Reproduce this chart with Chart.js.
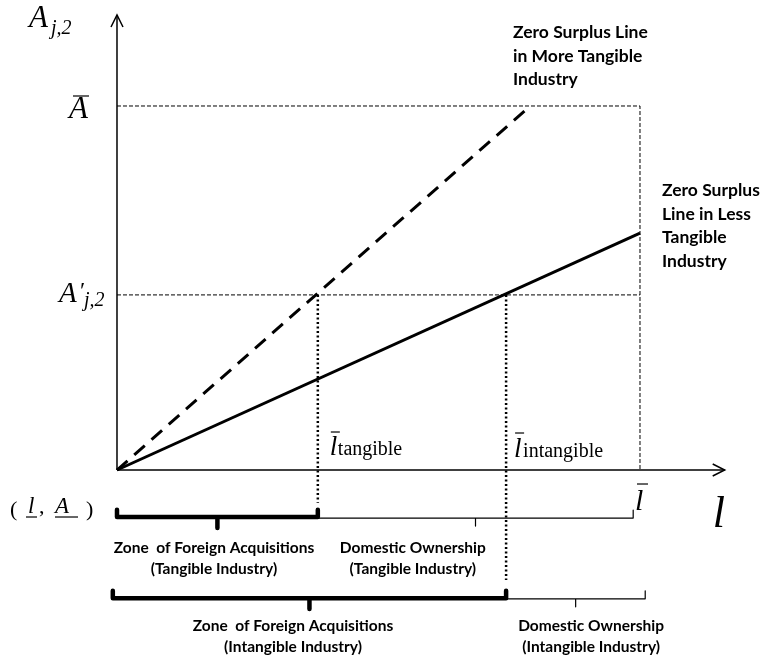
<!DOCTYPE html>
<html>
<head>
<meta charset="utf-8">
<script src="https://cdn.jsdelivr.net/npm/chart.js@4.4.0/dist/chart.umd.min.js"></script>
<style>
  html, body { margin: 0; padding: 0; background: #fff; }
  #wrap { width: 762px; height: 661px; }
</style>
</head>
<body>
<div id="wrap"><canvas id="chart"></canvas></div>
<script>
// thresholds (scaled so that l-bar = 10 and A-bar = 10)
const lBar = 10;
const ABar = 10;
const APrime = 4.81;
const lTangible = 3.84;
const lIntangible = 7.44;

// zero surplus lines, both start at the origin (l, A)
const moreTangibleX = [0, 7.9];
const moreTangibleY = [0, ABar];
const lessTangibleX = [0, lBar];
const lessTangibleY = [0, 6.51];

// axis extent (arrow tips)
const xAxisEnd = 11.62;
const yAxisEnd = 12.5;

// zones under the l axis: [from, to, level, heavy]
const zoneSpans = [
    [0, lTangible, -1.29, true],
    [lTangible, 9.87, -1.32, false],
    [-0.08, lIntangible, -3.52, true],
    [lIntangible, 10.1, -3.54, false],
];
// how far the dotted threshold lines reach below the axis
const tangibleDrop = -0.9;
const intangibleDrop = -3.02;

// zone captions (two lines each)
const zoneCaptions = [
    ["Zone  of Foreign Acquisitions", "(Tangible Industry)"],
    ["Domestic Ownership", "(Tangible Industry)"],
    ["Zone  of Foreign Acquisitions", "(Intangible Industry)"],
    ["Domestic Ownership", "(Intangible Industry)"],
];
const moreTangibleNote = ["Zero Surplus Line", "in More Tangible", "Industry"];
const lessTangibleNote = ["Zero Surplus", "Line in Less", "Tangible", "Industry"];

const pts = (xs, ys) => xs.map((x, i) => ({ x: x, y: ys[i] }));

function bracket(span) {
    const [from, to, level, heavy] = span;
    const mid = (from + to) / 2;
    const up = heavy ? 0.2 : 0.22;
    const down = heavy ? 0.3 : 0.22;
    return [
        { x: from, y: level + (heavy ? up : 0) },
        { x: from, y: level },
        { x: mid, y: level },
        { x: mid, y: level - down },
        { x: mid, y: level },
        { x: to, y: level },
        { x: to, y: level + up },
    ];
}

function lineSet(data, width, dash) {
    return {
        data: data,
        showLine: true,
        borderColor: "#000",
        borderWidth: width,
        borderDash: dash || [],
        pointRadius: 0,
        fill: false,
        tension: 0,
        clip: false,
    };
}

const datasets = [
    // axes
    lineSet([{ x: 0, y: 0 }, { x: xAxisEnd, y: 0 }], 1.5),
    lineSet([{ x: 0, y: 0 }, { x: 0, y: yAxisEnd }], 1.5),
    // guide lines
    lineSet([{ x: 0, y: ABar }, { x: lBar, y: ABar }, { x: lBar, y: 0 }], 1, [4, 2]),
    lineSet([{ x: 0, y: APrime }, { x: lBar, y: APrime }], 1, [4, 2]),
    lineSet([{ x: lTangible, y: APrime }, { x: lTangible, y: tangibleDrop }], 2.5, [2, 2.5]),
    lineSet([{ x: lIntangible, y: APrime }, { x: lIntangible, y: intangibleDrop }], 2.5, [2, 2.5]),
    // zero surplus lines
    lineSet(pts(moreTangibleX, moreTangibleY), 3, [14, 9]),
    lineSet(pts(lessTangibleX, lessTangibleY), 3),
];
zoneSpans.forEach(function (s) {
    const ds = lineSet(bracket(s), s[3] ? 4.5 : 1.2);
    ds.borderJoinStyle = "round";
    ds.borderCapStyle = "round";
    datasets.push(ds);
});

const serif = "'Liberation Serif', 'DejaVu Serif', serif";
const sans = "Lato, 'Open Sans', sans-serif";

const labelPlugin = {
    id: "labels",
    afterDatasetsDraw: function (chart) {
        const ctx = chart.ctx;
        const sx = chart.scales.x, sy = chart.scales.y;
        const px = (v) => sx.getPixelForValue(v);
        const py = (v) => sy.getPixelForValue(v);
        const txt = (s, x, y, font, align) => {
            ctx.font = font;
            ctx.textAlign = align || "left";
            ctx.fillText(s, x, y);
        };
        const bar = (x1, x2, y, w) => {
            ctx.beginPath();
            ctx.lineWidth = w || 1.2;
            ctx.moveTo(x1, y);
            ctx.lineTo(x2, y);
            ctx.stroke();
        };
        ctx.save();
        ctx.fillStyle = "#000";
        ctx.strokeStyle = "#000";
        ctx.textBaseline = "alphabetic";

        // arrow heads
        ctx.lineWidth = 1.5;
        const ox = px(0), oy = py(0);
        const xt = px(xAxisEnd), yt = py(yAxisEnd);
        ctx.beginPath();
        ctx.moveTo(xt - 12, oy - 6); ctx.lineTo(xt, oy); ctx.lineTo(xt - 12, oy + 6);
        ctx.moveTo(ox - 6, yt + 12); ctx.lineTo(ox, yt); ctx.lineTo(ox + 6, yt + 12);
        ctx.stroke();

        // axis titles
        txt("A", ox - 88, yt + 12, "italic 31px " + serif);
        txt("j,2", ox - 66, yt + 19, "italic 20px " + serif);
        txt("l", xt - 12, oy + 57, "italic 44px " + serif);

        // A bar
        txt("A", ox - 48, py(ABar) + 12, "italic 31px " + serif);
        bar(ox - 44, ox - 28, py(ABar) - 10);

        // A'_{j,2}
        const ay = py(APrime);
        txt("A", ox - 58, ay + 7, "italic 29px " + serif);
        txt("\u2032", ox - 37, ay + 3, "24px " + serif);
        txt("j,2", ox - 33, ay + 11, "italic 20px " + serif);

        // l-bar thresholds
        const tx = px(lTangible);
        txt("l", tx + 12, oy - 15, "italic 27px " + serif);
        bar(tx + 13, tx + 22, oy - 38);
        txt("tangible", tx + 20, oy - 15, "20px " + serif);
        const ix = px(lIntangible);
        txt("l", ix + 8, oy - 13, "italic 27px " + serif);
        bar(ix + 9, ix + 18, oy - 37);
        txt("intangible", ix + 17, oy - 13, "20px " + serif);
        const lx = px(lBar);
        txt("l", lx - 5, oy + 40, "italic 30px " + serif);
        bar(lx - 3, lx + 8, oy + 14);

        // origin ( l, A )
        txt("(", 10, oy + 46, "22px " + serif);
        txt("l", 28, oy + 43, "italic 23px " + serif);
        bar(26, 37, oy + 47, 1.2);
        txt(",", 39, oy + 43, "22px " + serif);
        txt("A", 55, oy + 43, "italic 23px " + serif);
        bar(55, 78, oy + 47, 1.2);
        txt(")", 86, oy + 46, "22px " + serif);

        // notes on the lines
        moreTangibleNote.forEach(function (s, i) {
            txt(s, 513, 38 + i * 23.5, "bold 17.5px " + sans);
        });
        lessTangibleNote.forEach(function (s, i) {
            txt(s, 662, 196 + i * 23.5, "bold 17.5px " + sans);
        });

        // zone captions under the brackets
        const rowBase = [py(zoneSpans[0][2]) + 36, py(zoneSpans[2][2]) + 33];
        const captionX = [px(zoneSpans[0][0]) + 97, px(lTangible) + 95, px(0) + 176, px(lIntangible) + 85];
        zoneCaptions.forEach(function (lines, i) {
            const base = rowBase[i < 2 ? 0 : 1];
            lines.forEach(function (line, j) {
                txt(line, captionX[i], base + j * 21, "bold 15.5px " + sans, "center");
            });
        });
        ctx.restore();
    },
};

new Chart(document.getElementById("chart"), {
    type: "scatter",
    data: { datasets: datasets },
    options: {
        responsive: true,
        maintainAspectRatio: false,
        animation: false,
        layout: { padding: 0 },
        scales: {
            x: { type: "linear", min: -2.237, max: 12.333, display: false },
            y: { type: "linear", min: -5.247, max: 12.912, display: false },
        },
        plugins: {
            legend: { display: false },
            tooltip: { enabled: false },
        },
    },
    plugins: [labelPlugin],
});
</script>
</body>
</html>
